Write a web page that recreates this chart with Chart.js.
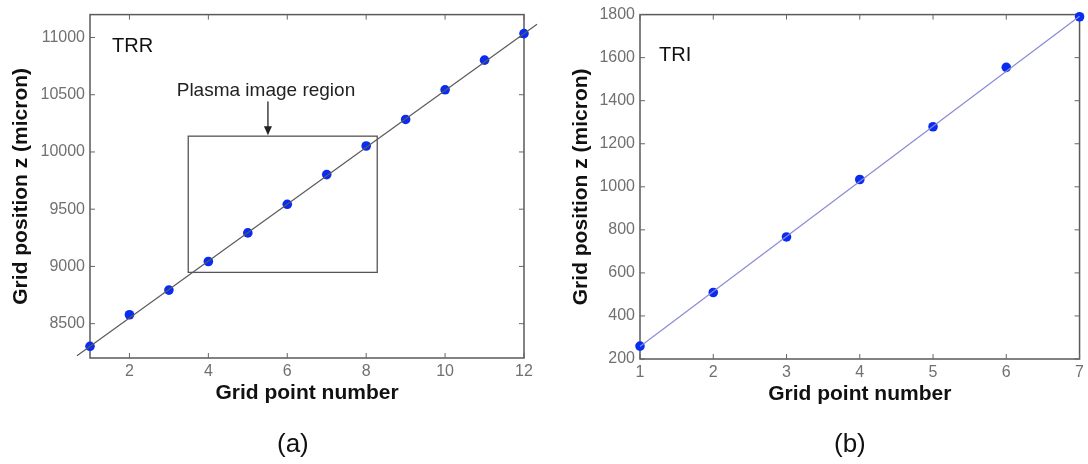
<!DOCTYPE html>
<html>
<head>
<meta charset="utf-8">
<script src="https://cdn.jsdelivr.net/npm/chart.js@4.4.1/dist/chart.umd.min.js"></script>
<style>
  body {
    margin: 0;
    background: #fff;
    width: 1088px;
    height: 464px;
    overflow: hidden;
    position: relative;
    font-family: "Liberation Sans", Arial, sans-serif;
  }
  .panel { position: absolute; top: 0; height: 464px; }
  #boxA { left: 0; width: 545px; }
  #boxB { left: 545px; width: 543px; }
  .tag { position: absolute; top: 428px; font-size: 26px; color: #111; }
</style>
</head>
<body>
<div class="panel" id="boxA"><canvas id="chartA"></canvas></div>
<div class="panel" id="boxB"><canvas id="chartB"></canvas></div>
<div class="tag" style="left:277px">(a)</div>
<div class="tag" style="left:834px">(b)</div>

<script>
// TRR grid: measured z for each grid point, plus the fitted line
const trrPoints = [1, 2, 3, 4, 5, 6, 7, 8, 9, 10, 11, 12];
const trrZ = [8302, 8578, 8793, 9043, 9293, 9543, 9802, 10052, 10284, 10543, 10802, 11034];
const trrFitN = [0.67, 12.33];
const trrFitZ = [8220, 11116];
const trrXTicks = [2, 4, 6, 8, 10, 12];
const trrYTicks = [8500, 9000, 9500, 10000, 10500, 11000];

// TRI grid
const triPoints = [1, 2, 3, 4, 5, 6, 7];
const triZ = [260, 509, 767, 1034, 1279, 1555, 1790];
const triFitN = [1, 7];
const triFitZ = [258, 1792];
const triXTicks = [1, 2, 3, 4, 5, 6, 7];
const triYTicks = [200, 400, 600, 800, 1000, 1200, 1400, 1600, 1800];

const FONT = "'Liberation Sans', Arial, sans-serif";
const TICK_GREY = "#707070";
const DOT_BLUE = "#0a2cf0";

function pairs(xs, ys) {
    return xs.map((v, i) => ({ x: v, y: ys[i] }));
}

// frame, inward tick marks, region box and in-plot labels
const panelDecor = {
    id: "panelDecor",

    beforeDatasetsDraw(chart, args, opts) {
        const { ctx, chartArea: a, scales: { x, y } } = chart;
        ctx.save();

        ctx.strokeStyle = "#5a5a5a";
        ctx.lineWidth = 1.5;
        ctx.strokeRect(a.left, a.top, a.width, a.height);

        ctx.lineWidth = 1;
        ctx.strokeStyle = "#666";
        ctx.beginPath();
        x.ticks.forEach(t => {
            const px = x.getPixelForValue(t.value);
            ctx.moveTo(px, a.bottom);
            ctx.lineTo(px, a.bottom - 5);
            ctx.moveTo(px, a.top);
            ctx.lineTo(px, a.top + 5);
        });
        y.ticks.forEach(t => {
            const py = y.getPixelForValue(t.value);
            ctx.moveTo(a.left, py);
            ctx.lineTo(a.left + 5, py);
            ctx.moveTo(a.right, py);
            ctx.lineTo(a.right - 5, py);
        });
        ctx.stroke();

        if (opts.region) {
            const r = opts.region;
            const x0 = x.getPixelForValue(r.n[0]);
            const x1 = x.getPixelForValue(r.n[1]);
            const y0 = y.getPixelForValue(r.z[1]);
            const y1 = y.getPixelForValue(r.z[0]);
            ctx.strokeStyle = "#555";
            ctx.lineWidth = 1.3;
            ctx.strokeRect(x0, y0, x1 - x0, y1 - y0);

            // arrow from the caption down to the box
            const ax = x.getPixelForValue(r.arrowN);
            const ay = y.getPixelForValue(r.arrowFrom);
            ctx.strokeStyle = "#222";
            ctx.lineWidth = 1.3;
            ctx.beginPath();
            ctx.moveTo(ax, ay);
            ctx.lineTo(ax, y0 - 8);
            ctx.stroke();
            ctx.fillStyle = "#222";
            ctx.beginPath();
            ctx.moveTo(ax - 4, y0 - 10);
            ctx.lineTo(ax + 4, y0 - 10);
            ctx.lineTo(ax, y0 - 1);
            ctx.closePath();
            ctx.fill();

            ctx.font = "19px " + FONT;
            ctx.textAlign = "center";
            ctx.textBaseline = "middle";
            ctx.fillText(r.caption, x.getPixelForValue(r.captionAt[0]), y.getPixelForValue(r.captionAt[1]));
        }

        if (opts.name) {
            ctx.fillStyle = "#111";
            ctx.font = "20px " + FONT;
            ctx.textAlign = "left";
            ctx.textBaseline = "middle";
            ctx.fillText(opts.name.text, x.getPixelForValue(opts.name.at[0]), y.getPixelForValue(opts.name.at[1]));
        }

        ctx.restore();
    }
};

function makeChart(id, cfg) {
    return new Chart(document.getElementById(id), {
        type: "scatter",
        data: {
            datasets: [
                {
                    data: pairs(cfg.fitN, cfg.fitZ),
                    showLine: true,
                    borderColor: cfg.lineColor,
                    borderWidth: 1.2,
                    pointRadius: 0,
                    clip: false
                },
                {
                    data: pairs(cfg.n, cfg.z),
                    backgroundColor: DOT_BLUE,
                    borderColor: DOT_BLUE,
                    pointRadius: 4.8,
                    borderWidth: 0,
                    clip: false
                }
            ]
        },
        options: {
            responsive: true,
            maintainAspectRatio: false,
            animation: false,
            layout: { padding: cfg.padding },
            plugins: {
                legend: { display: false },
                tooltip: { enabled: false },
                panelDecor: cfg.decor
            },
            scales: {
                x: {
                    type: "linear",
                    min: cfg.xRange[0],
                    max: cfg.xRange[1],
                    grid: { display: false, drawTicks: false },
                    border: { display: false },
                    afterBuildTicks: s => { s.ticks = cfg.xTicks.map(v => ({ value: v })); },
                    afterFit: s => { s.height = 48; },
                    ticks: {
                        padding: 4,
                        color: TICK_GREY,
                        font: { family: FONT, size: 16 },
                        callback: v => String(v)
                    },
                    title: {
                        display: true,
                        text: "Grid point number",
                        color: "#111",
                        padding: 0,
                        font: { family: FONT, size: 21, weight: "bold" }
                    }
                },
                y: {
                    type: "linear",
                    min: cfg.yRange[0],
                    max: cfg.yRange[1],
                    grid: { display: false, drawTicks: false },
                    border: { display: false },
                    afterBuildTicks: s => { s.ticks = cfg.yTicks.map(v => ({ value: v })); },
                    afterFit: s => { s.width = cfg.yWidth; },
                    ticks: {
                        padding: 5,
                        color: TICK_GREY,
                        font: { family: FONT, size: 16 },
                        callback: v => String(v)
                    },
                    title: {
                        display: true,
                        text: "Grid position z (micron)",
                        color: "#111",
                        padding: { top: cfg.yTitlePad, bottom: 0 },
                        font: { family: FONT, size: 21, weight: "bold" }
                    }
                }
            }
        },
        plugins: [panelDecor]
    });
}

makeChart("chartA", {
    n: trrPoints, z: trrZ,
    fitN: trrFitN, fitZ: trrFitZ,
    xTicks: trrXTicks, yTicks: trrYTicks,
    xRange: [1, 12], yRange: [8200, 11200],
    lineColor: "#5a5a5a",
    yWidth: 90,
    yTitlePad: 9,
    padding: { left: 0, top: 10, right: 21, bottom: 58 },
    decor: {
        name: { text: "TRR", at: [1.56, 10922] },
        region: {
            n: [3.49, 8.28],
            z: [8948, 10138],
            arrowN: 5.51,
            arrowFrom: 10440,
            caption: "Plasma image region",
            captionAt: [5.46, 10534]
        }
    }
});

makeChart("chartB", {
    n: triPoints, z: triZ,
    fitN: triFitN, fitZ: triFitZ,
    xTicks: triXTicks, yTicks: triYTicks,
    xRange: [1, 7], yRange: [200, 1800],
    lineColor: "#8a8ad8",
    yWidth: 95,
    yTitlePad: 24,
    padding: { left: 0, top: 12, right: 7, bottom: 57 },
    decor: {
        name: { text: "TRI", at: [1.26, 1611] }
    }
});
</script>
</body>
</html>
